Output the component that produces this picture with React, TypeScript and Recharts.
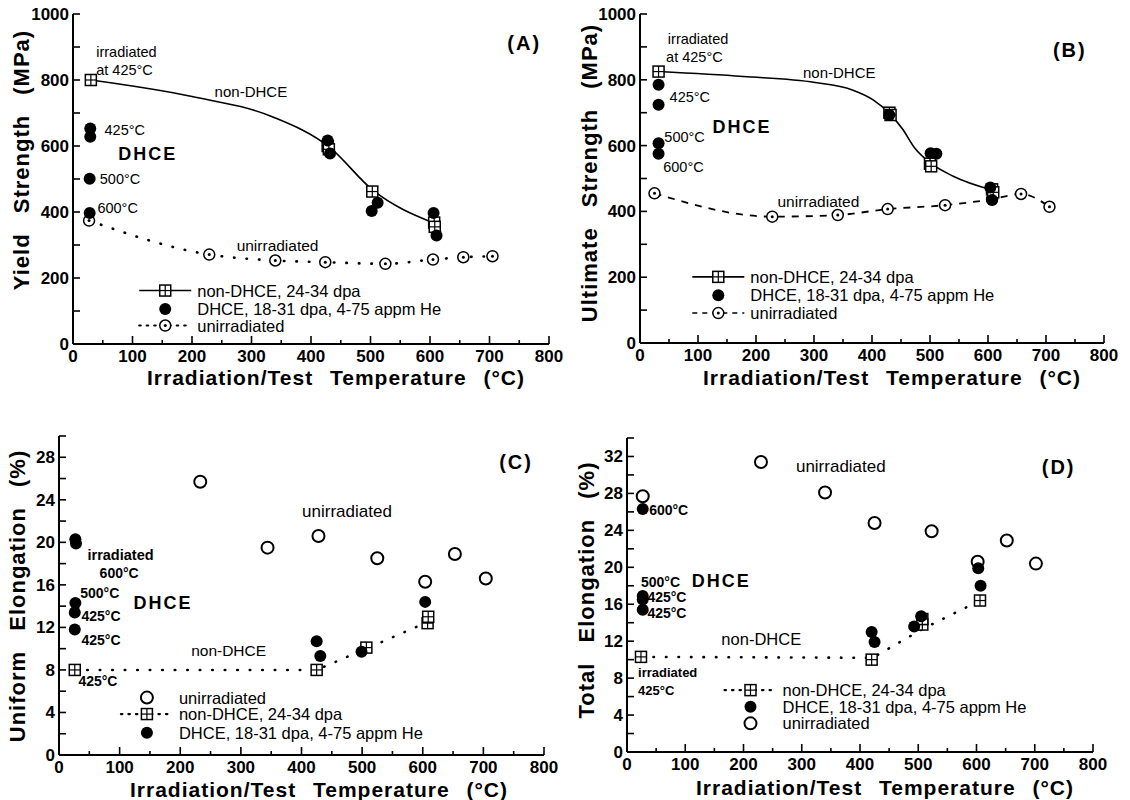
import React from 'react';
import { ComposedChart, Line, Scatter, XAxis, YAxis, ReferenceDot } from 'recharts';

const FONT = '"Liberation Sans", Arial, Helvetica, sans-serif';

type Pt = { x: number; y: number };
type Marker = 'square' | 'dot' | 'ring' | 'ringDot';
type Note = { x: number; y: number; text: string; size: number; bold?: boolean; spacing?: number };
type LegendRow = { x: number; y: number; text: string; marker: Marker; line?: 'solid' | 'dotted' | 'dashed' };

// axis ticks
const tempTicks = [0, 50, 100, 150, 200, 250, 300, 350, 400, 450, 500, 550, 600, 650, 700, 750, 800];
const strengthTicks = [0, 100, 200, 300, 400, 500, 600, 700, 800, 900, 1000];
const uniformTicks = [0, 2, 4, 6, 8, 10, 12, 14, 16, 18, 20, 22, 24, 26, 28, 30];
const totalTicks = [0, 2, 4, 6, 8, 10, 12, 14, 16, 18, 20, 22, 24, 26, 28, 30, 32, 34];

// (A) yield strength, MPa
const aNonDhce: Pt[] = [
  { x: 30, y: 800 }, { x: 428, y: 600 }, { x: 430, y: 590 }, { x: 503, y: 462 }, { x: 607, y: 368 }, { x: 608, y: 355 },
];
const aNonDhceFit: Pt[] = [
  { x: 30, y: 800 }, { x: 200, y: 750 }, { x: 336, y: 688 }, { x: 430, y: 598 }, { x: 504, y: 466 }, { x: 607, y: 366 },
];
const aDhce: Pt[] = [
  { x: 29, y: 653 }, { x: 29, y: 628 }, { x: 28, y: 501 }, { x: 28, y: 397 },
  { x: 428, y: 617 }, { x: 432, y: 577 }, { x: 502, y: 403 }, { x: 512, y: 428 }, { x: 606, y: 397 }, { x: 611, y: 329 },
];
const aUnirr: Pt[] = [
  { x: 27, y: 374 }, { x: 229, y: 271 }, { x: 340, y: 253 }, { x: 424, y: 248 }, { x: 525, y: 243 }, { x: 605, y: 256 },
  { x: 656, y: 263 }, { x: 705, y: 266 },
];

// (B) ultimate strength, MPa
const bNonDhce: Pt[] = [
  { x: 32, y: 825 }, { x: 430, y: 700 }, { x: 432, y: 693 }, { x: 500, y: 545 }, { x: 502, y: 537 }, { x: 607, y: 467 }, { x: 609, y: 458 },
];
const bNonDhceFit: Pt[] = [
  { x: 32, y: 825 }, { x: 178, y: 810 }, { x: 302, y: 792 }, { x: 365, y: 770 }, { x: 402, y: 739 }, { x: 430, y: 698 },
  { x: 452, y: 652 }, { x: 474, y: 592 }, { x: 500, y: 548 }, { x: 540, y: 507 }, { x: 607, y: 465 },
];
const bDhce: Pt[] = [
  { x: 32, y: 785 }, { x: 32, y: 724 }, { x: 32, y: 607 }, { x: 32, y: 575 },
  { x: 430, y: 693 }, { x: 501, y: 577 }, { x: 511, y: 575 }, { x: 604, y: 473 }, { x: 607, y: 435 },
];
const bUnirr: Pt[] = [
  { x: 25, y: 455 }, { x: 228, y: 384 }, { x: 341, y: 389 }, { x: 427, y: 407 }, { x: 526, y: 419 }, { x: 607, y: 437 },
  { x: 657, y: 453 }, { x: 706, y: 414 },
];

// (C) uniform elongation, %
const cUnirr: Pt[] = [
  { x: 233, y: 25.7 }, { x: 344, y: 19.5 }, { x: 428, y: 20.6 }, { x: 525, y: 18.5 }, { x: 604, y: 16.3 }, { x: 653, y: 18.9 }, { x: 704, y: 16.6 },
];
const cDhce: Pt[] = [
  { x: 27, y: 20.3 }, { x: 28, y: 19.9 }, { x: 27, y: 14.3 }, { x: 26, y: 13.4 }, { x: 26, y: 11.8 },
  { x: 425, y: 10.7 }, { x: 431, y: 9.3 }, { x: 499, y: 9.7 }, { x: 604, y: 14.4 },
];
const cNonDhce: Pt[] = [
  { x: 26, y: 8.0 }, { x: 425, y: 8.0 }, { x: 507, y: 10.1 }, { x: 608, y: 12.4 }, { x: 609, y: 13.0 },
];
const cNonDhceLine: Pt[] = [{ x: 26, y: 8.0 }, { x: 425, y: 8.0 }, { x: 507, y: 10.0 }, { x: 608, y: 12.5 }];

// (D) total elongation, %
const dUnirr: Pt[] = [
  { x: 27, y: 27.7 }, { x: 230, y: 31.4 }, { x: 340, y: 28.1 }, { x: 425, y: 24.8 }, { x: 523, y: 23.9 }, { x: 602, y: 20.6 },
  { x: 652, y: 22.9 }, { x: 702, y: 20.4 },
];
const dDhce: Pt[] = [
  { x: 27, y: 26.3 }, { x: 27, y: 16.9 }, { x: 27, y: 16.5 }, { x: 27, y: 15.4 },
  { x: 420, y: 13.0 }, { x: 425, y: 11.9 }, { x: 493, y: 13.6 }, { x: 505, y: 14.7 }, { x: 603, y: 19.9 }, { x: 607, y: 18.0 },
];
const dNonDhce: Pt[] = [
  { x: 24, y: 10.3 }, { x: 420, y: 10.0 }, { x: 507, y: 13.8 }, { x: 507, y: 14.4 }, { x: 606, y: 16.4 },
];
const dNonDhceLine: Pt[] = [{ x: 24, y: 10.3 }, { x: 422, y: 10.2 }, { x: 510, y: 13.4 }, { x: 606, y: 16.4 }];

// annotations
const aNotes: Note[] = [
  { x: 39, y: 885, text: 'irradiated', size: 14.5 },
  { x: 39, y: 830, text: 'at 425°C', size: 14.5 },
  { x: 238, y: 764, text: 'non-DHCE', size: 15 },
  { x: 53, y: 648, text: '425°C', size: 14.5 },
  { x: 76, y: 575, text: 'DHCE', size: 18, bold: true, spacing: 2 },
  { x: 45, y: 501, text: '500°C', size: 14.5 },
  { x: 41, y: 413, text: '600°C', size: 14.5 },
  { x: 275, y: 298, text: 'unirradiated', size: 15.5 },
  { x: 730, y: 911, text: '(A)', size: 20, bold: true, spacing: 2 },
];
const bNotes: Note[] = [
  { x: 48, y: 924, text: 'irradiated', size: 14.5 },
  { x: 45, y: 869, text: 'at 425°C', size: 14.5 },
  { x: 281, y: 822, text: 'non-DHCE', size: 15 },
  { x: 51, y: 749, text: '425°C', size: 14.5 },
  { x: 125, y: 658, text: 'DHCE', size: 18, bold: true, spacing: 2 },
  { x: 42, y: 627, text: '500°C', size: 14.5 },
  { x: 40, y: 536, text: '600°C', size: 14.5 },
  { x: 237, y: 429, text: 'unirradiated', size: 15.5 },
  { x: 712, y: 891, text: '(B)', size: 20, bold: true, spacing: 2 },
];
const cNotes: Note[] = [
  { x: 726, y: 27.6, text: '(C)', size: 20, bold: true, spacing: 2 },
  { x: 401, y: 22.9, text: 'unirradiated', size: 17 },
  { x: 47, y: 18.8, text: 'irradiated', size: 14.5, bold: true },
  { x: 67, y: 17.1, text: '600°C', size: 14, bold: true },
  { x: 35, y: 15.25, text: '500°C', size: 14, bold: true },
  { x: 123, y: 14.25, text: 'DHCE', size: 18, bold: true, spacing: 2 },
  { x: 37, y: 13.1, text: '425°C', size: 14, bold: true },
  { x: 37, y: 10.8, text: '425°C', size: 14, bold: true },
  { x: 218, y: 9.8, text: 'non-DHCE', size: 15.5 },
  { x: 32, y: 7.0, text: '425°C', size: 14, bold: true },
];
const dNotes: Note[] = [
  { x: 712, y: 30.9, text: '(D)', size: 20, bold: true, spacing: 2 },
  { x: 290, y: 30.9, text: 'unirradiated', size: 17 },
  { x: 38, y: 26.2, text: '600°C', size: 14, bold: true },
  { x: 24, y: 18.4, text: '500°C', size: 14, bold: true },
  { x: 111, y: 18.5, text: 'DHCE', size: 18, bold: true, spacing: 2 },
  { x: 35, y: 16.8, text: '425°C', size: 14, bold: true },
  { x: 35, y: 15.0, text: '425°C', size: 14, bold: true },
  { x: 162, y: 12.25, text: 'non-DHCE', size: 16.5 },
  { x: 19, y: 8.6, text: 'irradiated', size: 13, bold: true },
  { x: 19, y: 6.7, text: '425°C', size: 13, bold: true },
];

// legends
const aLegend: LegendRow[] = [
  { x: 155, y: 162, text: 'non-DHCE, 24-34 dpa', marker: 'square', line: 'solid' },
  { x: 155, y: 106, text: 'DHCE, 18-31 dpa, 4-75 appm He', marker: 'dot' },
  { x: 155, y: 56, text: 'unirradiated', marker: 'ringDot', line: 'dotted' },
];
const bLegend: LegendRow[] = [
  { x: 135, y: 201, text: 'non-DHCE, 24-34 dpa', marker: 'square', line: 'solid' },
  { x: 135, y: 145, text: 'DHCE, 18-31 dpa, 4-75 appm He', marker: 'dot' },
  { x: 135, y: 91, text: 'unirradiated', marker: 'ringDot', line: 'dashed' },
];
const cLegend: LegendRow[] = [
  { x: 145, y: 5.4, text: 'unirradiated', marker: 'ring' },
  { x: 145, y: 3.85, text: 'non-DHCE, 24-34 dpa', marker: 'square', line: 'dotted' },
  { x: 145, y: 2.1, text: 'DHCE, 18-31 dpa, 4-75 appm He', marker: 'dot' },
];
const dLegend: LegendRow[] = [
  { x: 212, y: 6.7, text: 'non-DHCE, 24-34 dpa', marker: 'square', line: 'dotted' },
  { x: 212, y: 4.9, text: 'DHCE, 18-31 dpa, 4-75 appm He', marker: 'dot' },
  { x: 212, y: 3.1, text: 'unirradiated', marker: 'ring' },
];

const drawMarker = (kind: Marker, cx: number, cy: number) => {
  if (cx == null || cy == null) return null;
  if (kind === 'square') {
    const s = 5.5;
    return (
      <g>
        <rect x={cx - s} y={cy - s} width={2 * s} height={2 * s} fill="#fff" stroke="#000" strokeWidth={1.5} />
        <line x1={cx - s} x2={cx + s} y1={cy} y2={cy} stroke="#000" strokeWidth={1.2} />
        <line x1={cx} x2={cx} y1={cy - s} y2={cy + s} stroke="#000" strokeWidth={1.2} />
      </g>
    );
  }
  if (kind === 'dot') return <circle cx={cx} cy={cy} r={6} fill="#000" />;
  return (
    <g>
      <circle cx={cx} cy={cy} r={kind === 'ring' ? 6 : 5.5} fill="#fff" stroke="#000" strokeWidth={kind === 'ring' ? 2 : 1.5} />
      {kind === 'ringDot' && <circle cx={cx} cy={cy} r={1.5} fill="#000" />}
    </g>
  );
};

const mk = (kind: Marker) => (p: any) => drawMarker(kind, p.cx, p.cy);

const noteShape = (n: Note) => (p: any) => (
  <text x={p.cx} y={p.cy} dominantBaseline="central" fontSize={n.size} fontWeight={n.bold ? 'bold' : 'normal'}
    letterSpacing={n.spacing ?? 0} fontFamily={FONT} fill="#000">{n.text}</text>
);

const dashFor = { solid: undefined, dotted: '1.5 6', dashed: '5 5' } as const;

const legendShape = (r: LegendRow) => (p: any) => (
  <g>
    {r.line && (
      <line x1={p.cx - 26} x2={p.cx + 26} y1={p.cy} y2={p.cy} stroke="#000"
        strokeWidth={r.line === 'dotted' ? 2.2 : 1.6} strokeDasharray={dashFor[r.line]} strokeLinecap={r.line === 'dotted' ? 'round' : 'butt'} />
    )}
    {drawMarker(r.marker, p.cx, p.cy)}
    <text x={p.cx + 32} y={p.cy} dominantBaseline="central" fontSize={16.5} fontFamily={FONT} fill="#000">{r.text}</text>
  </g>
);

const AXIS = { stroke: '#000', strokeWidth: 2 };

const bottomTick = (p: any) => {
  const v = p.payload.value as number;
  const big = v % 100 === 0;
  return (
    <g>
      <line x1={p.x} x2={p.x} y1={p.y} y2={p.y - (big ? 8 : 4)} stroke="#000" strokeWidth={1.6} />
      {big && <text x={p.x} y={p.y + 18} textAnchor="middle" fontSize={17} fontWeight="bold" fontFamily={FONT} fill="#000">{v}</text>}
    </g>
  );
};
const topTick = (p: any) => {
  const big = (p.payload.value as number) % 100 === 0;
  return <line x1={p.x} x2={p.x} y1={p.y} y2={p.y + (big ? 7 : 4)} stroke="#000" strokeWidth={1.6} />;
};
const leftTick = (major: number) => (p: any) => {
  const v = p.payload.value as number;
  return (
    <g>
      <line x1={p.x} x2={p.x + 7} y1={p.y} y2={p.y} stroke="#000" strokeWidth={1.6} />
      {v % major === 0 && <text x={p.x - 4} y={p.y} dy="0.35em" textAnchor="end" fontSize={17} fontWeight="bold" fontFamily={FONT} fill="#000">{v}</text>}
    </g>
  );
};
const rightTick = (p: any) => <line x1={p.x} x2={p.x - 7} y1={p.y} y2={p.y} stroke="#000" strokeWidth={1.6} />;

const titleStyle: React.CSSProperties = {
  position: 'absolute', whiteSpace: 'nowrap', fontFamily: FONT, fontWeight: 'bold', fontSize: 21,
  letterSpacing: 1, color: '#000', lineHeight: 1,
};

type PanelProps = {
  left: number; top: number; width: number; height: number;
  margin: { top: number; right: number; bottom: number; left: number };
  yDomain: [number, number]; yTicks: number[]; yMajor: number;
  yTitle: string; yTitlePos: [number, number]; xTitlePos: [number, number];
  children: React.ReactNode;
};

function Panel(props: PanelProps) {
  const { left, top, width, height, margin, yDomain, yTicks, yMajor } = props;
  return (
    <div style={{ position: 'absolute', left, top, width, height }}>
      <ComposedChart width={width} height={height} margin={margin}>
        <XAxis type="number" dataKey="x" domain={[0, 800]} ticks={tempTicks} interval={0} allowDataOverflow
          height={30} tickSize={0} tickMargin={0} tickLine={false} axisLine={AXIS} tick={bottomTick} />
        <XAxis xAxisId="top" orientation="top" type="number" domain={[0, 800]} ticks={tempTicks} interval={0} allowDataOverflow
          height={0} tickSize={0} tickMargin={0} tickLine={false} axisLine={AXIS} tick={topTick} />
        <YAxis type="number" dataKey="y" domain={yDomain} ticks={yTicks} interval={0} allowDataOverflow
          width={45} tickSize={0} tickMargin={0} tickLine={false} axisLine={AXIS} tick={leftTick(yMajor)} />
        <YAxis yAxisId="right" orientation="right" type="number" domain={yDomain} ticks={yTicks} interval={0} allowDataOverflow
          width={0} tickSize={0} tickMargin={0} tickLine={false} axisLine={AXIS} tick={rightTick} />
        {props.children}
      </ComposedChart>
      <div style={{ ...titleStyle, left: props.xTitlePos[0], top: props.xTitlePos[1], transform: 'translate(-50%, -50%)', wordSpacing: 10 }}>
        Irradiation/Test Temperature (°C)
      </div>
      <div style={{ ...titleStyle, fontSize: 22, left: props.yTitlePos[0], top: props.yTitlePos[1], transform: 'translate(-50%, -50%) rotate(-90deg)', wordSpacing: 13 }}>
        {props.yTitle}
      </div>
    </div>
  );
}

const notes = (list: Note[]) =>
  list.map((n, i) => <ReferenceDot key={'n' + i} x={n.x} y={n.y} r={0} ifOverflow="visible" shape={noteShape(n)} />);
const legend = (list: LegendRow[]) =>
  list.map((r, i) => <ReferenceDot key={'l' + i} x={r.x} y={r.y} r={0} ifOverflow="visible" shape={legendShape(r)} />);

export default function App() {
  return (
    <div style={{ position: 'absolute', left: 0, top: 0, width: 1130, height: 800, background: '#fff', overflow: 'hidden' }}>
      <Panel left={0} top={0} width={570} height={400} margin={{ top: 14, right: 21, bottom: 26, left: 28 }}
        yDomain={[0, 1000]} yTicks={strengthTicks} yMajor={200}
        yTitle="Yield Strength (MPa)" yTitlePos={[22, 160]} xTitlePos={[336, 377]}>
        <Line data={aNonDhceFit} dataKey="y" type="monotone" stroke="#000" strokeWidth={1.6} dot={false} activeDot={false} isAnimationActive={false} />
        <Line data={aUnirr} dataKey="y" type="monotone" stroke="#000" strokeWidth={2.6} strokeDasharray="0.5 12" strokeLinecap="round"
          dot={false} activeDot={false} isAnimationActive={false} />
        <Scatter data={aUnirr} dataKey="y" shape={mk('ringDot')} isAnimationActive={false} />
        <Scatter data={aNonDhce} dataKey="y" shape={mk('square')} isAnimationActive={false} />
        <Scatter data={aDhce} dataKey="y" shape={mk('dot')} isAnimationActive={false} />
        {notes(aNotes)}
        {legend(aLegend)}
      </Panel>
      <Panel left={565} top={0} width={565} height={400} margin={{ top: 14, right: 26, bottom: 27, left: 30 }}
        yDomain={[0, 1000]} yTicks={strengthTicks} yMajor={200}
        yTitle="Ultimate Strength (MPa)" yTitlePos={[25, 173]} xTitlePos={[327, 377]}>
        <Line data={bNonDhceFit} dataKey="y" type="monotone" stroke="#000" strokeWidth={1.6} dot={false} activeDot={false} isAnimationActive={false} />
        <Line data={bUnirr} dataKey="y" type="monotone" stroke="#000" strokeWidth={1.8} strokeDasharray="7 7"
          dot={false} activeDot={false} isAnimationActive={false} />
        <Scatter data={bUnirr} dataKey="y" shape={mk('ringDot')} isAnimationActive={false} />
        <Scatter data={bNonDhce} dataKey="y" shape={mk('square')} isAnimationActive={false} />
        <Scatter data={bDhce} dataKey="y" shape={mk('dot')} isAnimationActive={false} />
        {notes(bNotes)}
        {legend(bLegend)}
      </Panel>
      <Panel left={0} top={400} width={570} height={400} margin={{ top: 36, right: 26, bottom: 15, left: 14 }}
        yDomain={[0, 30]} yTicks={uniformTicks} yMajor={4}
        yTitle="Uniform Elongation (%)" yTitlePos={[18, 196]} xTitlePos={[319, 389]}>
        <Line data={cNonDhceLine} dataKey="y" type="linear" stroke="#000" strokeWidth={2.6} strokeDasharray="0.5 12" strokeLinecap="round"
          dot={false} activeDot={false} isAnimationActive={false} />
        <Scatter data={cUnirr} dataKey="y" shape={mk('ring')} isAnimationActive={false} />
        <Scatter data={cNonDhce} dataKey="y" shape={mk('square')} isAnimationActive={false} />
        <Scatter data={cDhce} dataKey="y" shape={mk('dot')} isAnimationActive={false} />
        {notes(cNotes)}
        {legend(cLegend)}
      </Panel>
      <Panel left={565} top={400} width={565} height={400} margin={{ top: 38, right: 37, bottom: 18, left: 17 }}
        yDomain={[0, 34]} yTicks={totalTicks} yMajor={4}
        yTitle="Total Elongation (%)" yTitlePos={[22, 190]} xTitlePos={[320, 387]}>
        <Line data={dNonDhceLine} dataKey="y" type="linear" stroke="#000" strokeWidth={2.6} strokeDasharray="0.5 12" strokeLinecap="round"
          dot={false} activeDot={false} isAnimationActive={false} />
        <Scatter data={dUnirr} dataKey="y" shape={mk('ring')} isAnimationActive={false} />
        <Scatter data={dNonDhce} dataKey="y" shape={mk('square')} isAnimationActive={false} />
        <Scatter data={dDhce} dataKey="y" shape={mk('dot')} isAnimationActive={false} />
        {notes(dNotes)}
        {legend(dLegend)}
      </Panel>
    </div>
  );
}
